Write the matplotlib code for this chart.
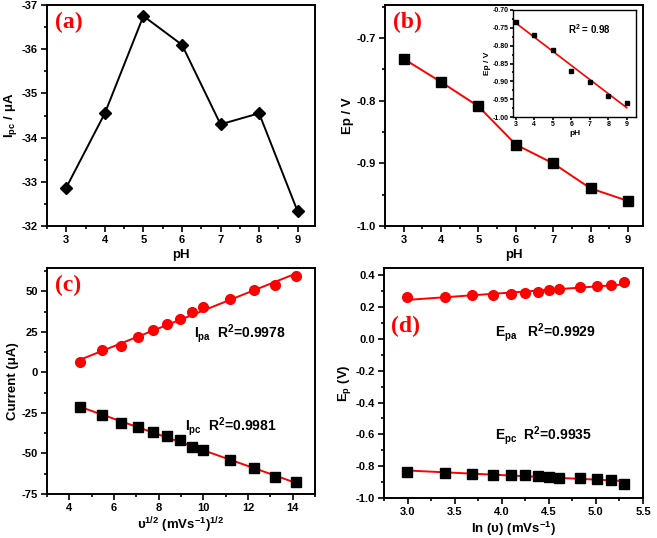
import numpy as np
import matplotlib
matplotlib.use("Agg")
import matplotlib.pyplot as plt
from matplotlib.ticker import MultipleLocator, FormatStrFormatter

plt.rcParams["font.family"] = ["Liberation Sans", "DejaVu Sans"]
plt.rcParams["font.weight"] = "bold"
plt.rcParams["axes.labelweight"] = "bold"
plt.rcParams["axes.unicode_minus"] = False
plt.rcParams["mathtext.default"] = "bf"

# (a) cathodic peak current vs pH
ph = [3, 4, 5, 6, 7, 8, 9]
ipc_ph = [-32.87, -34.55, -36.75, -36.1, -34.3, -34.55, -32.33]

# (b) peak potential vs pH
ep_ph = [-0.733, -0.770, -0.809, -0.870, -0.900, -0.940, -0.960]
ep_inset = [-0.733, -0.771, -0.811, -0.871, -0.901, -0.940, -0.960]

# (c) current vs sqrt(scan rate)
scan_rate = [20, 30, 40, 50, 60, 70, 80, 90, 100, 125, 150, 175, 200]
ipa = [6.2, 13.6, 16.6, 22.1, 26.0, 30.2, 33.0, 37.2, 40.2, 45.1, 51.1, 54.3, 59.6]
ipc = [-21.3, -26.2, -31.3, -33.4, -37.0, -39.1, -41.7, -46.0, -48.1, -53.8, -58.7, -64.7, -67.9]

# (d) peak potential vs ln(scan rate)
epa = [0.264, 0.264, 0.276, 0.276, 0.280, 0.286, 0.292, 0.305, 0.315, 0.324, 0.333, 0.341, 0.358]
epc = [-0.834, -0.840, -0.851, -0.853, -0.855, -0.853, -0.862, -0.868, -0.874, -0.876, -0.878, -0.889, -0.912]

W, H = 657, 538
fig = plt.figure(figsize=(W / 100, H / 100), dpi=100)


def box(l, t, r, b):
    return [l / W, 1 - b / H, (r - l) / W, (b - t) / H]


def style(ax, fs=8):
    for s in ax.spines.values():
        s.set_linewidth(1.4)
    ax.tick_params(which="both", direction="out", width=1.2, labelsize=fs, pad=2.5)
    ax.tick_params(which="major", length=4)
    ax.tick_params(which="minor", length=2.5)
    for lab in ax.get_xticklabels() + ax.get_yticklabels():
        lab.set_fontweight("bold")


def panel_label(ax, txt, x=0.03, y=0.97):
    ax.text(x, y, txt, transform=ax.transAxes, ha="left", va="top",
            color="red", fontsize=17, fontweight="bold",
            family=["Liberation Serif", "DejaVu Serif"])


LFS = 9.5

# (a)
ax1 = fig.add_axes(box(47, 5, 315, 226))
ax1.plot(ph, ipc_ph, color="black", lw=1.4, marker="D", ms=6.5)
ax1.set_xlim(2.5, 9.45)
ax1.set_ylim(-32, -37)
ax1.xaxis.set_major_locator(MultipleLocator(1))
ax1.xaxis.set_minor_locator(MultipleLocator(0.5))
ax1.yaxis.set_major_locator(MultipleLocator(1))
ax1.yaxis.set_minor_locator(MultipleLocator(0.5))
ax1.set_xlabel("pH", fontsize=LFS, labelpad=3)
ax1.set_ylabel(r"I$_{\mathregular{pc}}$ / μA", fontsize=LFS, labelpad=2)
style(ax1)
panel_label(ax1, "(a)")

# (b)
ax2 = fig.add_axes(box(385, 5, 643, 226))
ax2.plot(ph, ep_ph, color="red", lw=1.4, zorder=2)
ax2.plot(ph, ep_ph, ls="none", color="black", marker="s", ms=7.5, zorder=3)
ax2.set_xlim(2.5, 9.4)
ax2.set_ylim(-1.0, -0.647)
ax2.xaxis.set_major_locator(MultipleLocator(1))
ax2.xaxis.set_minor_locator(MultipleLocator(0.5))
ax2.yaxis.set_major_locator(MultipleLocator(0.1))
ax2.yaxis.set_minor_locator(MultipleLocator(0.05))
ax2.yaxis.set_major_formatter(FormatStrFormatter("%.1f"))
ax2.set_xlabel("pH", fontsize=LFS, labelpad=3)
ax2.set_ylabel("Ep / V", fontsize=LFS, labelpad=2)
style(ax2)
panel_label(ax2, "(b)")

# inset of (b)
axi = fig.add_axes(box(513, 10, 636, 117))
k, b0 = np.polyfit(ph, ep_inset, 1)
xf = np.array([ph[0], ph[-1]])
axi.plot(xf, k * xf + b0, color="red", lw=1.2)
axi.plot(ph, ep_inset, ls="none", color="black", marker="s", ms=3)
axi.set_xlim(2.85, 9.5)
axi.set_ylim(-1.0, -0.70)
axi.xaxis.set_major_locator(MultipleLocator(1))
axi.xaxis.set_minor_locator(MultipleLocator(0.5))
axi.yaxis.set_major_locator(MultipleLocator(0.05))
axi.yaxis.set_minor_locator(MultipleLocator(0.025))
axi.yaxis.set_major_formatter(FormatStrFormatter("%.2f"))
axi.set_xlabel("pH", fontsize=6, labelpad=1)
axi.set_ylabel("Ep / V", fontsize=6, labelpad=1)
style(axi, fs=5)
for s in axi.spines.values():
    s.set_linewidth(1.0)
axi.tick_params(which="major", length=2, pad=1)
axi.tick_params(which="minor", length=1)
axi.text(0.45, 0.78, r"R$^{\mathregular{2}}$ = 0.98", transform=axi.transAxes,
         fontsize=7, fontweight="bold")

# (c)
sq = np.sqrt(scan_rate)
ax3 = fig.add_axes(box(47, 268, 315, 494))
for yy in [ipa, ipc]:
    k, b0 = np.polyfit(sq, yy, 1)
    xf = np.array([sq[0], sq[-1]])
    ax3.plot(xf, k * xf + b0, color="red", lw=1.4, zorder=2)
ax3.plot(sq, ipa, ls="none", color="red", marker="o", ms=7, zorder=3)
ax3.plot(sq, ipc, ls="none", color="black", marker="s", ms=6.5, zorder=3)
ax3.set_xlim(3, 15)
ax3.set_ylim(-75, 64.5)
ax3.xaxis.set_major_locator(MultipleLocator(2))
ax3.xaxis.set_minor_locator(MultipleLocator(1))
ax3.yaxis.set_major_locator(MultipleLocator(25))
ax3.yaxis.set_minor_locator(MultipleLocator(12.5))
ax3.set_xlabel(r"υ$^{\mathregular{1/2}}$ (mVs$^{\mathregular{-1}}$)$^{\mathregular{1/2}}$",
               fontsize=LFS, labelpad=2)
ax3.set_ylabel("Current (μA)", fontsize=LFS, labelpad=2)
ax3.text(9.6, 23.8, r"I$_{\mathregular{pa}}$  R$^{\mathregular{2}}$=0.9978", fontsize=10,
         fontweight="bold", va="center")
ax3.text(9.2, -33.6, r"I$_{\mathregular{pc}}$  R$^{\mathregular{2}}$=0.9981", fontsize=10,
         fontweight="bold", va="center")
style(ax3)
panel_label(ax3, "(c)")

# (d)
ln_v = np.log(scan_rate)
ax4 = fig.add_axes(box(384, 268, 643, 498))
for yy in [epa, epc]:
    k, b0 = np.polyfit(ln_v, yy, 1)
    xf = np.array([ln_v[0], ln_v[-1]])
    ax4.plot(xf, k * xf + b0, color="red", lw=1.4, zorder=2)
ax4.plot(ln_v, epa, ls="none", color="red", marker="o", ms=7, zorder=3)
ax4.plot(ln_v, epc, ls="none", color="black", marker="s", ms=6.5, zorder=3)
ax4.set_xlim(2.75, 5.5)
ax4.set_ylim(-1.0, 0.446)
ax4.xaxis.set_major_locator(MultipleLocator(0.5))
ax4.xaxis.set_minor_locator(MultipleLocator(0.25))
ax4.yaxis.set_major_locator(MultipleLocator(0.2))
ax4.yaxis.set_minor_locator(MultipleLocator(0.1))
ax4.xaxis.set_major_formatter(FormatStrFormatter("%.1f"))
ax4.yaxis.set_major_formatter(FormatStrFormatter("%.1f"))
ax4.set_xlabel(r"ln (υ) (mVs$^{\mathregular{-1}}$)", fontsize=LFS, labelpad=2)
ax4.set_ylabel(r"E$_{\mathregular{p}}$ (V)", fontsize=LFS, labelpad=2)
ax4.text(3.93, 0.038, r"E$_{\mathregular{pa}}$   R$^{\mathregular{2}}$=0.9929", fontsize=10,
         fontweight="bold", va="center")
ax4.text(3.93, -0.61, r"E$_{\mathregular{pc}}$  R$^{\mathregular{2}}$=0.9935", fontsize=10,
         fontweight="bold", va="center")
style(ax4)
panel_label(ax4, "(d)", x=0.027, y=0.79)

fig.savefig("out.png", dpi=100)
